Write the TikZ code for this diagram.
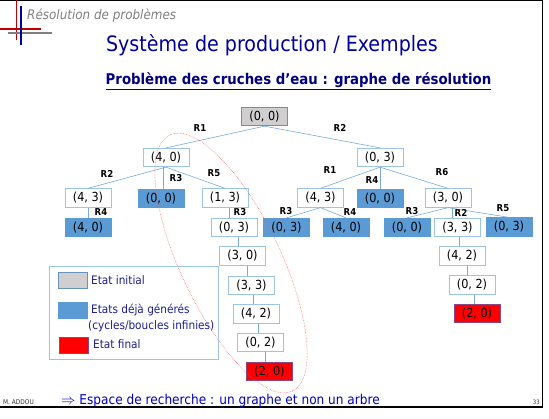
\documentclass[tikz,border=0pt]{standalone}
\usepackage{fontspec}
\setmainfont{DejaVu Sans Condensed}
\usetikzlibrary{calc}

\definecolor{edgeblue}{RGB}{120,170,222}
\definecolor{lightborder}{RGB}{157,195,230}
\definecolor{seenblue}{RGB}{91,155,213}
\definecolor{initgray}{RGB}{208,206,206}
\definecolor{finalred}{RGB}{255,0,0}
\definecolor{finalborder}{RGB}{140,70,130}
\definecolor{titleblue}{RGB}{0,0,153}
\definecolor{subblue}{RGB}{0,0,128}
\definecolor{legendblue}{RGB}{30,30,150}
\definecolor{footblue}{RGB}{0,0,200}
\definecolor{markred}{RGB}{192,0,0}
\definecolor{markblue}{RGB}{0,0,160}

\tikzset{
  state/.style={draw=lightborder, line width=0.8pt, fill=white, minimum width=46pt,
    minimum height=18.5pt, inner sep=0pt, font=\fontsize{12.5}{12.5}\selectfont},
  initstate/.style={state, fill=initgray, draw=seenblue!70!gray},
  seenstate/.style={state, fill=seenblue, draw=seenblue},
  finalstate/.style={state, fill=finalred, draw=finalborder},
  link/.style={draw=edgeblue, line width=0.6pt},
  rule/.style={font=\bfseries\fontsize{9.5}{9.5}\selectfont, inner sep=0pt},
  swatch/.style={minimum width=29pt, minimum height=16pt, inner sep=0pt, line width=0.8pt},
  legtext/.style={anchor=west, inner sep=0pt, text=legendblue, font=\fontsize{11.7}{11.7}\selectfont},
}

% near-vertical connector placed halfway between the two node centres
\newcommand\midlink[2]{%
  \path ($(#1)!.5!(#2)$) coordinate (mid);
  \draw[link] (mid |- #1.south) -- (mid |- #2.north);}

\begin{document}
\begin{tikzpicture}[x=1pt,y=-1pt]
\useasboundingbox (0,0) rectangle (549,418);
\fill[white] (0,0) rectangle (549,418);

% slide frame
\draw[line width=1pt] (0,0.5) -- (542,0.5) -- (542,407);
\draw[line width=2.5pt] (0,407) -- (543,407);

% header marks
\draw[markred, line width=1.6pt] (16.5,0) -- (16.5,40);
\draw[markred, line width=1.8pt] (0,29) -- (41,29);
\draw[gray, line width=1.8pt] (8,33) -- (52,33);
\draw[markblue, line width=1.6pt] (21,6) -- (21,45);

% titles
\node[anchor=west, inner sep=0pt, text=gray, font=\itshape\fontsize{13.3}{13.3}\selectfont] (section) at (27,15.5) {Résolution de problèmes};
\node[inner sep=0pt, text=titleblue, font=\fontsize{21.2}{21.2}\selectfont] (title) at (272,45) {Système de production / Exemples};
\node[inner sep=0pt, text=subblue, font=\bfseries\fontsize{14.8}{14.8}\selectfont] (subtitle) at (298.5,81)
  {\underline{Problème des cruches d’eau : graphe de résolution}};

% search graph
\node[initstate] (n0) at (264.5,116.5) {(0, 0)};
\node[state] (a) at (166,157.5) {(4, 0)};
\node[state] (b) at (380,157.5) {(0, 3)};

\node[state] (a1) at (88,198) {(4, 3)};
\node[seenstate] (a2) at (161,198.5) {(0, 0)};
\node[state] (a3) at (225,198) {(1, 3)};
\node[seenstate] (a11) at (88,227.5) {(4, 0)};
\node[state] (a31) at (234,227.5) {(0, 3)};
\node[state] (c1) at (242.5,256) {(3, 0)};
\node[state] (c2) at (251.5,285.5) {(3, 3)};
\node[state] (c3) at (256,314) {(4, 2)};
\node[state] (c4) at (260.5,342.5) {(0, 2)};
\node[finalstate] (c5) at (269.5,371.5) {(2, 0)};

\node[state] (b1) at (320.5,198) {(4, 3)};
\node[seenstate] (b2) at (380,198.5) {(0, 0)};
\node[state] (b3) at (448,198) {(3, 0)};
\node[seenstate] (b11) at (286.5,227.5) {(0, 3)};
\node[seenstate] (b12) at (346,227.5) {(4, 0)};
\node[seenstate] (b31) at (407,227.5) {(0, 0)};
\node[state] (b32) at (457.5,227.5) {(3, 3)};
\node[seenstate] (b33) at (509,227) {(0, 3)};
\node[state] (d1) at (462,256) {(4, 2)};
\node[state] (d2) at (472,285) {(0, 2)};
\node[finalstate] (d3) at (477,313.5) {(2, 0)};

% connectors
\draw[link] (n0.south) -- (a.north);
\draw[link] (n0.south) -- (b.north);
\draw[link] (a.south) -- (a1.north);
\midlink{a}{a2}
\draw[link] (a.south) -- (a3.north);
\midlink{a1}{a11}
\midlink{a3}{a31}
\midlink{a31}{c1}
\midlink{c1}{c2}
\midlink{c2}{c3}
\midlink{c3}{c4}
\midlink{c4}{c5}
\draw[link] (b.south) -- (b1.north);
\midlink{b}{b2}
\draw[link] (b.south) -- (b3.north);
\draw[link] (b1.south) -- (b11.north);
\draw[link] (b1.south) -- (b12.north);
\draw[link] (b3.south) -- (b31.north);
\midlink{b3}{b32}
\draw[link] (b3.south) -- (b33.north);
\midlink{b32}{d1}
\midlink{d1}{d2}
\midlink{d2}{d3}

% rule labels
\node[rule] (r1) at (200,128) {R1};
\node[rule] (r2) at (340,128) {R2};
\node[rule] (r3) at (107,173.5) {R2};
\node[rule] (r4) at (176,178) {R3};
\node[rule] (r5) at (214,173) {R5};
\node[rule] (r6) at (101,212.5) {R4};
\node[rule] (r7) at (240,212.5) {R3};
\node[rule] (r8) at (330,170) {R1};
\node[rule] (r9) at (372,180.5) {R4};
\node[rule] (r10) at (442,172) {R6};
\node[rule] (r11) at (286,211) {R3};
\node[rule] (r12) at (350,212.5) {R4};
\node[rule] (r13) at (412,211.5) {R3};
\node[rule] (r14) at (461,213) {R2};
\node[rule] (r15) at (503,208.5) {R5};

% loop-free path highlight
\begin{scope}[shift={(231,263)}, rotate=-64.4]
  \draw[red!70, densely dotted, line width=0.5pt] (0,0) ellipse [x radius=142, y radius=50];
\end{scope}

% legend
\node[draw=lightborder, line width=0.8pt, minimum width=169pt, minimum height=93pt, inner sep=0pt] (legend) at (133.5,312.5) {};
\node[swatch, fill=initgray, draw=seenblue!70!gray] (s1) at (72.5,280) {};
\node[swatch, fill=seenblue, draw=seenblue] (s2) at (72.5,310.5) {};
\node[swatch, fill=finalred, draw=finalborder] (s3) at (73.5,345) {};
\node[legtext] (t1) at (91,280) {Etat initial};
\node[legtext] (t2) at (91,310) {Etats déjà générés};
\node[legtext] (t3) at (88,326) {(cycles/boucles infinies)};
\node[legtext] (t4) at (93,344) {Etat final};

% footer
\node[anchor=west, inner sep=0pt, font=\fontsize{6.5}{6.5}\selectfont, text=black!80] (author) at (3,402.5) {M. ADDOU};
\node[anchor=west, inner sep=0pt, text=footblue, font=\fontsize{13.5}{13.5}\selectfont] (conclusion) at (61,400.5)
  {$\Rightarrow$ Espace de recherche : un graphe et non un arbre};
\node[anchor=east, inner sep=0pt, font=\fontsize{6}{6}\selectfont, text=black!80] (page) at (540,402.5) {33};
\end{tikzpicture}
\end{document}
